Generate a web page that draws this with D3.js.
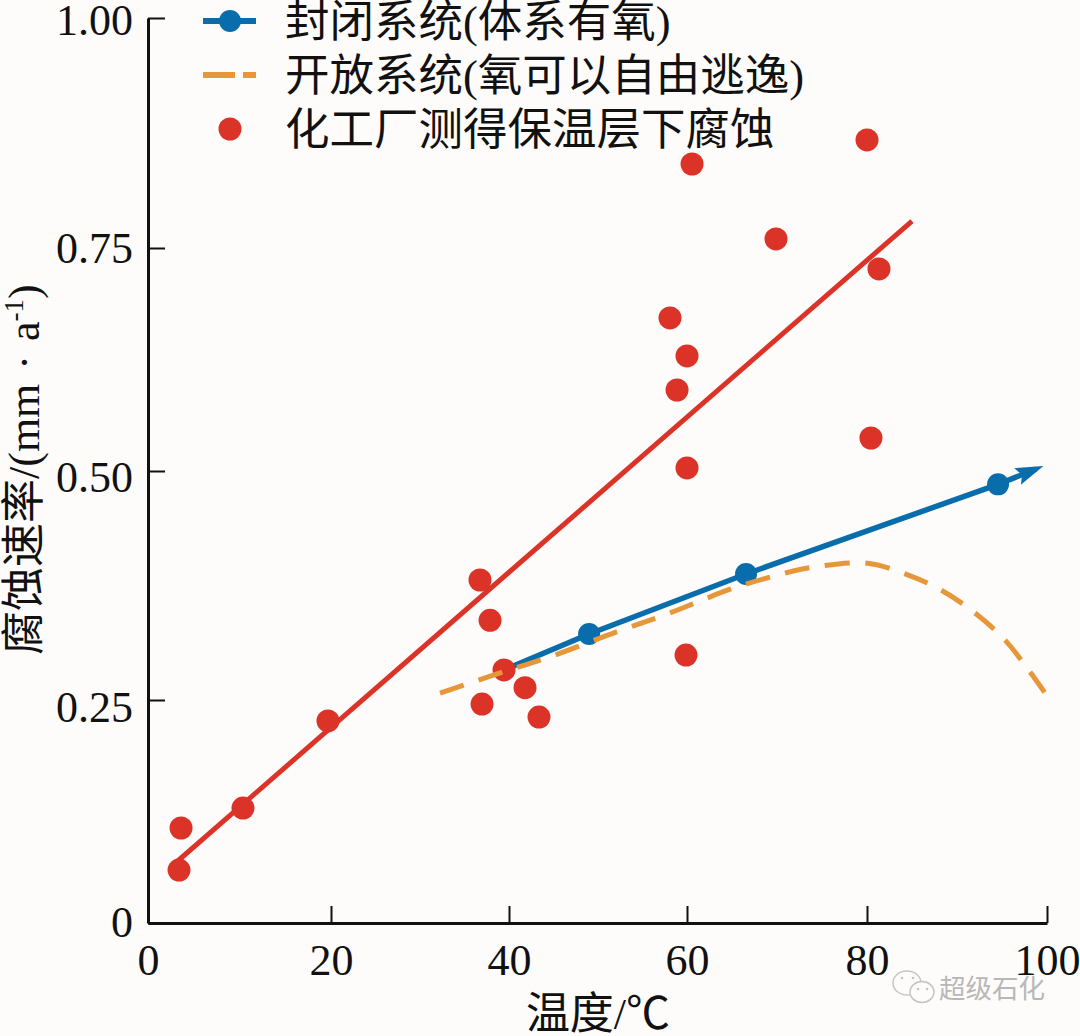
<!DOCTYPE html>
<html>
<head>
<meta charset="utf-8">
<script src="https://cdn.jsdelivr.net/npm/d3@7"></script>
<style>
  html, body { margin: 0; padding: 0; background: #fdfcfa; }
  svg { display: block; }
  text { fill: #111; font-family: "Liberation Serif", "Noto Sans CJK SC", serif; }
</style>
</head>
<body>
<svg id="chart" width="1080" height="1036"></svg>
<script>
// values
const xTicks = [0, 20, 40, 60, 80, 100];
const yTicks = [0, 0.25, 0.5, 0.75, 1];

const redLine = [[2.62, 0.0639], [85, 0.7793]];
const closedSystem = [[39.44, 0.2828], [49, 0.322], [66.56, 0.3876], [94.56, 0.4854]];
const closedArrowEnd = [98.78, 0.5022];
const openSystem = [[32.25, 0.2576], [38.99, 0.2795], [45.17, 0.2991], [52.02, 0.3242], [58.09, 0.345], [64.89, 0.3712], [70.89, 0.3886], [73.44, 0.3941], [79.78, 0.3996], [84, 0.3886], [88.22, 0.3701], [92, 0.345], [95.33, 0.3155], [98.11, 0.2806], [99.78, 0.2576]];
const plantX = [3.39, 3.61, 10.38, 19.67, 36.74, 37.87, 36.97, 39.44, 41.8, 43.37, 59.89, 60, 58.88, 60, 58.09, 60.56, 69.89, 80, 81.33, 80.44];
const plantY = [0.0594, 0.1065, 0.1289, 0.2265, 0.381, 0.337, 0.2455, 0.2828, 0.2635, 0.2309, 0.2991, 0.5034, 0.5908, 0.629, 0.6716, 0.8413, 0.7598, 0.8674, 0.7265, 0.537];

const legendLabels = ['封闭系统(体系有氧)', '开放系统(氧可以自由逃逸)', '化工厂测得保温层下腐蚀'];
const xTitle = '温度/℃';
const watermark = '超级石化';

const BLUE = '#0a6dab', ORANGE = '#e6973a', RED = '#dc3329', INK = '#111', BG = '#fdfcfa';

const svg = d3.select('#chart');
// the printed ticks are not quite evenly spaced, so the scales follow them
const x = d3.scaleLinear().domain(xTicks).range([148, 331, 509, 687, 867, 1047]);
const y = d3.scaleLinear().domain(yTicks).range([923, 700, 471, 248, 18]);
const line = d3.line().x(d => x(d[0])).y(d => y(d[1]));

// axes, ticks point into the plot
const xAxis = svg.append('g').attr('transform', 'translate(0,923)')
  .call(d3.axisBottom(x).tickValues(xTicks).tickSize(-17).tickSizeOuter(0).tickFormat(d3.format('d')));
const yAxis = svg.append('g').attr('transform', 'translate(148,0)')
  .call(d3.axisLeft(y).tickValues(yTicks).tickSize(-17).tickSizeOuter(0).tickPadding(15)
    .tickFormat(d => d === 0 ? '0' : d3.format('.2f')(d)));
[xAxis, yAxis].forEach(a => {
  a.attr('font-family', null);
  a.selectAll('.domain').attr('stroke', INK).attr('stroke-width', 3);
  a.selectAll('.tick line').attr('stroke', INK).attr('stroke-width', 2);
  a.selectAll('text').attr('font-size', 44).attr('fill', INK);
});
xAxis.selectAll('.tick text').attr('y', 17).attr('dy', '0.8em');
// the y labels sit a little below their ticks in the print
const yLabelShift = [-1, 7, 6, 0, 2];
yAxis.selectAll('.tick text').attr('dy', '0.33em').attr('y', (d, i) => yLabelShift[i]);

// arrow head for the closed system line
svg.append('defs').append('marker')
  .attr('id', 'arrow').attr('markerUnits', 'userSpaceOnUse')
  .attr('viewBox', '0 0 30 20').attr('markerWidth', 30).attr('markerHeight', 20)
  .attr('refX', 22).attr('refY', 10).attr('orient', 'auto')
  .append('path').attr('d', 'M2,1 L30,10 L2,19 L7,10 Z').attr('fill', BLUE);

svg.append('path').datum(redLine).attr('d', line)
  .attr('fill', 'none').attr('stroke', RED).attr('stroke-width', 5);

svg.append('path').datum(closedSystem.concat([closedArrowEnd])).attr('d', line)
  .attr('fill', 'none').attr('stroke', BLUE).attr('stroke-width', 5.5).attr('marker-end', 'url(#arrow)');

svg.append('g').selectAll('circle').data(closedSystem.slice(1)).join('circle')
  .attr('cx', d => x(d[0])).attr('cy', d => y(d[1])).attr('r', 11).attr('fill', BLUE);

svg.append('g').selectAll('circle').data(plantX).join('circle')
  .attr('cx', d => x(d)).attr('cy', (d, i) => y(plantY[i])).attr('r', 11.5).attr('fill', RED);

// the dashes run over the dots
svg.append('path').datum(openSystem).attr('d', line.curve(d3.curveCatmullRom))
  .attr('fill', 'none').attr('stroke', ORANGE).attr('stroke-width', 5).attr('stroke-dasharray', '25,15.6');
line.curve(d3.curveLinear);

// legend
const rows = [21, 75, 129];
const legend = svg.append('g');
legend.selectAll('text').data(legendLabels).join('text')
  .attr('x', 285).attr('y', (d, i) => rows[i] + 16).attr('font-size', 44.5).text(d => d);
legend.append('line').attr('x1', 203).attr('x2', 256).attr('y1', rows[0]).attr('y2', rows[0])
  .attr('stroke', BLUE).attr('stroke-width', 6);
legend.append('circle').attr('cx', 230).attr('cy', rows[0]).attr('r', 11).attr('fill', BLUE);
legend.append('line').attr('x1', 203).attr('x2', 256).attr('y1', rows[1]).attr('y2', rows[1])
  .attr('stroke', ORANGE).attr('stroke-width', 6).attr('stroke-dasharray', '32,8,13,10');
legend.append('circle').attr('cx', 230).attr('cy', rows[2]).attr('r', 11.5).attr('fill', RED);

// axis titles
svg.append('text').attr('x', 598).attr('y', 1029).attr('text-anchor', 'middle').attr('font-size', 44).text(xTitle);

const yTitle = svg.append('text').attr('transform', 'translate(39,655) rotate(-90)').attr('font-size', 44);
yTitle.append('tspan').text('腐蚀速率/(mm');
yTitle.append('tspan').attr('dx', 3).text(' · ');
yTitle.append('tspan').attr('dx', 3).text('a');
yTitle.append('tspan').attr('dy', -16).attr('font-size', 27).text('-1');
yTitle.append('tspan').attr('dy', 16).text(')');

// watermark
const wm = svg.append('g').attr('fill', BG).attr('stroke', '#c4c4c4').attr('stroke-width', 1.5);
wm.append('ellipse').attr('cx', 907).attr('cy', 983).attr('rx', 14).attr('ry', 12);
wm.append('ellipse').attr('cx', 922).attr('cy', 992).attr('rx', 12).attr('ry', 10.5);
wm.selectAll('circle').data([[902, 978], [913, 978], [918, 989], [927, 989]]).join('circle')
  .attr('cx', d => d[0]).attr('cy', d => d[1]).attr('r', 1.3).attr('fill', '#c4c4c4').attr('stroke', 'none');
svg.append('text').attr('x', 939).attr('y', 998).attr('font-size', 26.5)
  .style('fill', '#b8b8b8').text(watermark);
</script>
</body>
</html>
